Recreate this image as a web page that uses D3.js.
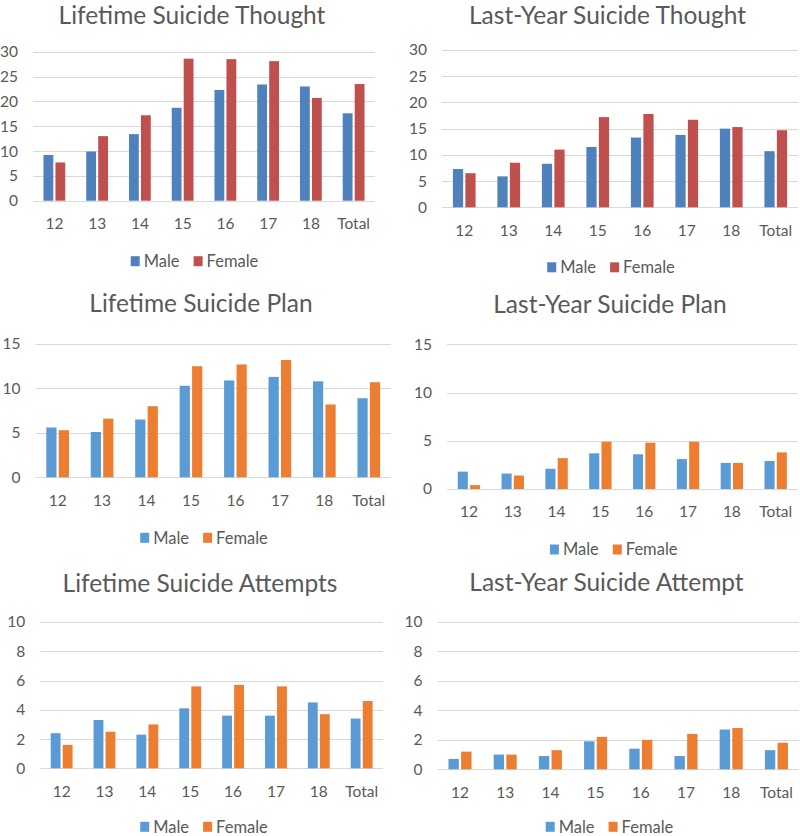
<!DOCTYPE html>
<html><head><meta charset="utf-8">
<script src="https://cdn.jsdelivr.net/npm/d3@7"></script>
<style>
body{margin:0;background:#fff;}
svg{display:block;}
text{font-family:"Lato","Noto Sans",sans-serif;fill:#595959;}
</style></head>
<body><svg id="c" width="800" height="836"></svg>
<script>
// ---- data ----
const categories = ["12","13","14","15","16","17","18","Total"];
const seriesNames = ["Male","Female"];
const ticksThought = [0,5,10,15,20,25,30];
const ticksPlan = [0,5,10,15];
const ticksAttempt = [0,2,4,6,8,10];

const lifetimeThoughtMale   = [9.2, 9.9, 13.4, 18.7, 22.3, 23.4, 23.0, 17.6];
const lifetimeThoughtFemale = [7.7, 13.0, 17.2, 28.6, 28.5, 28.1, 20.7, 23.5];
const lastYearThoughtMale   = [7.3, 5.9, 8.3, 11.5, 13.3, 13.8, 15.0, 10.7];
const lastYearThoughtFemale = [6.5, 8.5, 11.0, 17.2, 17.8, 16.7, 15.3, 14.7];
const lifetimePlanMale      = [5.6, 5.1, 6.5, 10.3, 10.9, 11.3, 10.8, 8.9];
const lifetimePlanFemale    = [5.3, 6.6, 8.0, 12.5, 12.7, 13.2, 8.2, 10.7];
const lastYearPlanMale      = [1.8, 1.6, 2.1, 3.7, 3.6, 3.1, 2.7, 2.9];
const lastYearPlanFemale    = [0.4, 1.4, 3.2, 4.9, 4.8, 4.9, 2.7, 3.8];
const lifetimeAttemptMale   = [2.4, 3.3, 2.3, 4.1, 3.6, 3.6, 4.5, 3.4];
const lifetimeAttemptFemale = [1.6, 2.5, 3.0, 5.6, 5.7, 5.6, 3.7, 4.6];
const lastYearAttemptMale   = [0.7, 1.0, 0.9, 1.9, 1.4, 0.9, 2.7, 1.3];
const lastYearAttemptFemale = [1.2, 1.0, 1.3, 2.2, 2.0, 2.4, 2.8, 1.8];

const colorsA = ["#4F81BD","#C0504D"];
const colorsB = ["#5B9BD5","#ED7D31"];

// ---- layout ----
const panels = [
  {title:"Lifetime Suicide Thought", vals:[lifetimeThoughtMale,lifetimeThoughtFemale], ticks:ticksThought, colors:colorsA,
   x0:33, x1:375, yTop:51.7, yZero:200.7, tx:192, ty:24, lx:194.5, ld:60.5},
  {title:"Last-Year Suicide Thought", vals:[lastYearThoughtMale,lastYearThoughtFemale], ticks:ticksThought, colors:colorsA,
   x0:442, x1:798, yTop:50, yZero:207.3, tx:607.5, ty:24, lx:611, ld:60},
  {title:"Lifetime Suicide Plan", vals:[lifetimePlanMale,lifetimePlanFemale], ticks:ticksPlan, colors:colorsB,
   x0:35.4, x1:391, yTop:344, yZero:477.3, tx:201, ty:312.3, lx:204, ld:60.5},
  {title:"Last-Year Suicide Plan", vals:[lastYearPlanMale,lastYearPlanFemale], ticks:ticksPlan, colors:colorsB,
   x0:447, x1:797.6, yTop:344.3, yZero:489, tx:610, ty:313, lx:613.7, ld:60.5},
  {title:"Lifetime Suicide Attempts", vals:[lifetimeAttemptMale,lifetimeAttemptFemale], ticks:ticksAttempt, colors:colorsB,
   x0:40.2, x1:383.1, yTop:622, yZero:768.3, tx:200, ty:591.7, lx:204, ld:58.5},
  {title:"Last-Year Suicide Attempt", vals:[lastYearAttemptMale,lastYearAttemptFemale], ticks:ticksAttempt, colors:colorsB,
   x0:437.4, x1:799, yTop:622, yZero:769.3, tx:606.5, ty:591, lx:609.5, ld:57.5}
];

const svg = d3.select("#c");

panels.forEach(p => {
  const g = svg.append("g");
  const x = d3.scaleBand().domain(categories).range([p.x0, p.x1]).paddingInner(0).paddingOuter(0);
  const y = d3.scaleLinear().domain([0, d3.max(p.ticks)]).range([p.yZero, p.yTop]);
  const band = x.bandwidth();
  const groupW = band * 0.51;
  const x1 = d3.scaleBand().domain(seriesNames).range([0, groupW]).paddingInner(0.18).paddingOuter(0);

  // gridlines
  g.append("g").selectAll("line").data(p.ticks).join("line")
    .attr("x1", p.x0).attr("x2", p.x1)
    .attr("y1", d => Math.round(y(d)) + 0.5).attr("y2", d => Math.round(y(d)) + 0.5)
    .attr("stroke", "#D9D9D9").attr("stroke-width", 1);

  // y axis labels
  const ya = d3.axisLeft(y).tickValues(p.ticks).tickSize(0).tickPadding(15);
  const yg = g.append("g").attr("transform", `translate(${p.x0},0)`).call(ya);
  yg.select(".domain").remove();
  yg.selectAll("text").style("font-size","15.5px").attr("fill","#595959");

  // x axis labels
  const xa = d3.axisBottom(x).tickSize(0).tickPadding(0);
  const xg = g.append("g").attr("transform", `translate(0,${p.yZero + 23})`).call(xa);
  xg.select(".domain").remove();
  xg.selectAll("text").attr("dy","0.35em").attr("y",0).style("font-size","15.5px").attr("fill","#595959");

  // bars
  seriesNames.forEach((s, si) => {
    g.append("g").selectAll("rect").data(p.vals[si]).join("rect")
      .attr("x", (d,i) => x(categories[i]) + (band - groupW)/2 + x1(s))
      .attr("width", x1.bandwidth())
      .attr("y", d => y(d))
      .attr("height", d => y(0) - y(d))
      .attr("fill", p.colors[si]);
  });

  // title
  g.append("text").attr("x", p.tx).attr("y", p.ty).attr("text-anchor","middle")
    .style("font-size","24.5px").text(p.title);

  // legend
  const lg = g.append("g");
  const ly = p.yZero + p.ld;
  let cx = 0;
  seriesNames.forEach((s, si) => {
    lg.append("rect").attr("x", cx).attr("y", ly - 5).attr("width", 9).attr("height", 10).attr("fill", p.colors[si]);
    const t = lg.append("text").attr("x", cx + 13).attr("y", ly).attr("dy","0.35em").style("font-size","16.5px").text(s);
    cx += 13 + t.node().getComputedTextLength() + 14;
  });
  const totalW = cx - 14;
  lg.attr("transform", `translate(${p.lx - totalW/2},0)`);
});
</script></body></html>
